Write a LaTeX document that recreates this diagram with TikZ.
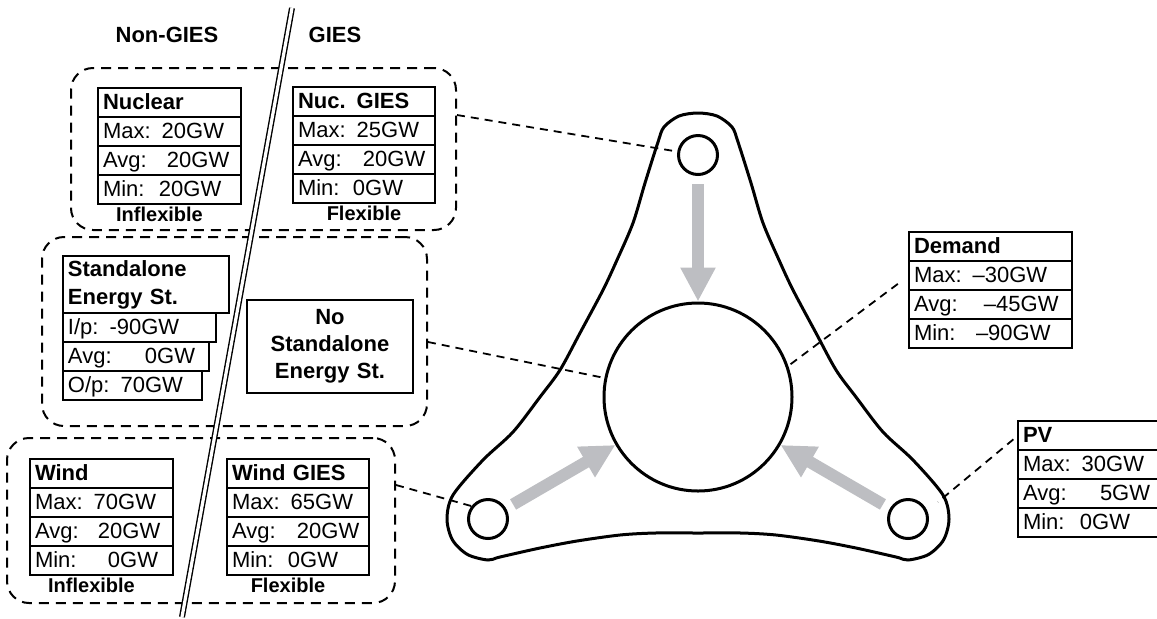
\documentclass[tikz,border=0pt]{standalone}
\usepackage{fontspec}
\setmainfont{Liberation Sans}
\usetikzlibrary{arrows.meta,positioning}

\definecolor{flowgray}{RGB}{189,190,194}

\begin{document}
\begin{tikzpicture}[x=0.5pt, y=-0.5pt,
    every node/.style={inner sep=2pt, font=\fontsize{11}{13}\selectfont},
    cell/.style={draw, line width=1pt, outer sep=0pt, anchor=north west,
        inner xsep=2.5pt, inner ysep=0pt, minimum height=14.5pt,
        text width=#1, align=left, text height=8.5pt, text depth=2pt},
    head/.style={font=\fontsize{11}{13}\selectfont\bfseries},
    side/.style={font=\fontsize{10}{12}\selectfont\bfseries, inner sep=1.5pt},
    grp/.style={draw, line width=1pt, dash pattern=on 5pt off 3.5pt,
        rounded corners=11pt, inner sep=0pt},
    link/.style={draw, line width=0.9pt, dash pattern=on 4pt off 3pt},
    hole/.style={circle, draw, line width=1.5pt, minimum size=19.5pt, inner sep=0pt},
    flow/.style={draw=flowgray, line width=6pt,
        -{Triangle[width=16.5pt, length=17pt]}, shorten <=4pt}
]
    \useasboundingbox (0,0) rectangle (1157,618);
    \clip (0,0) rectangle (1157,618);

    % dashed groups
    \node[grp, minimum width=192.5pt, minimum height=81pt] (topgrp) at (263.5,149) {};
    \node[grp, minimum width=192.5pt, minimum height=94.5pt] (midgrp) at (234.5,331.5) {};
    \node[grp, minimum width=194pt, minimum height=82.5pt] (botgrp) at (201,520.5) {};

    % Non-GIES / GIES divider
    \coordinate (cuttop) at (292,8);
    \coordinate (cutbot) at (182,617);
    \draw[double, double distance=1.6pt, line width=0.7pt] (cuttop) -- (cutbot);

    \node[head] (nongies) at (167,35) {Non-GIES};
    \node[head] (gies) at (335,35) {GIES};

    % Nuclear
    \node[cell=66.5pt] (nuc) at (98,88) {\textbf{Nuclear}};
    \node[cell=66.5pt, below=0pt of nuc] (nuc-max) {Max: 20GW};
    \node[cell=66.5pt, below=0pt of nuc-max] (nuc-avg) {\makebox[32pt][l]{Avg:}20GW};
    \node[cell=66.5pt, below=0pt of nuc-avg] (nuc-min) {\makebox[28pt][l]{Min:}20GW};
    \node[side, below=0pt of nuc-min, xshift=-5pt] (nuc-lab) {Inflexible};

    % Nuclear GIES
    \node[cell=66pt] (nucg) at (293,87) {\textbf{Nuc. GIES}};
    \node[cell=66pt, below=0pt of nucg] (nucg-max) {Max: 25GW};
    \node[cell=66pt, below=0pt of nucg-max] (nucg-avg) {\makebox[32.5pt][l]{Avg:}20GW};
    \node[cell=66pt, below=0pt of nucg-avg] (nucg-min) {\makebox[27.5pt][l]{Min:}0GW};
    \node[side, below=0pt of nucg-min] (nucg-lab) {Flexible};

    % Standalone storage
    \node[cell=78pt, text height=, text depth=, minimum height=28.5pt,
        font=\fontsize{11}{14}\selectfont\bfseries] (sta) at (63,256) {Standalone\\Energy St.};
    \node[cell=71.5pt] (sta-in) at (sta.south west) {I/p: -90GW};
    \node[cell=68pt] (sta-avg) at (sta-in.south west) {\makebox[38.5pt][l]{Avg:}0GW};
    \node[cell=64.5pt] (sta-out) at (sta-avg.south west) {O/p: 70GW};

    \node[cell=78pt, text height=, text depth=, minimum height=46.5pt, align=center,
        font=\fontsize{11}{13.5}\selectfont\bfseries] (nosta) at (247,300) {No\\Standalone\\Energy St.};

    % Wind
    \node[cell=66.5pt] (wind) at (30,459) {\textbf{Wind}};
    \node[cell=66.5pt, below=0pt of wind] (wind-max) {Max: 70GW};
    \node[cell=66.5pt, below=0pt of wind-max] (wind-avg) {\makebox[31.5pt][l]{Avg:}20GW};
    \node[cell=66.5pt, below=0pt of wind-avg] (wind-min) {\makebox[36.5pt][l]{Min:}0GW};
    \node[side, below=0pt of wind-min, xshift=-5pt] (wind-lab) {Inflexible};

    % Wind GIES
    \node[cell=66pt] (windg) at (227,459) {\textbf{Wind GIES}};
    \node[cell=66pt, below=0pt of windg] (windg-max) {Max: 65GW};
    \node[cell=66pt, below=0pt of windg-max] (windg-avg) {\makebox[32.5pt][l]{Avg:}20GW};
    \node[cell=66pt, below=0pt of windg-avg] (windg-min) {\makebox[28pt][l]{Min:}0GW};
    \node[side, below=0pt of windg-min, xshift=-5pt] (windg-lab) {Flexible};

    % Demand
    \node[cell=76.5pt] (dem) at (909,232) {\textbf{Demand}};
    \node[cell=76.5pt, below=0pt of dem] (dem-max) {Max: --30GW};
    \node[cell=76.5pt, below=0pt of dem-max] (dem-avg) {\makebox[35pt][l]{Avg:}--45GW};
    \node[cell=76.5pt, below=0pt of dem-avg] (dem-min) {\makebox[31pt][l]{Min:}--90GW};

    % PV
    \node[cell=70pt] (pv) at (1018,421) {\textbf{PV}};
    \node[cell=70pt, below=0pt of pv] (pv-max) {Max: 30GW};
    \node[cell=70pt, below=0pt of pv-max] (pv-avg) {\makebox[38.5pt][l]{Avg:}5GW};
    \node[cell=70pt, below=0pt of pv-avg] (pv-min) {\makebox[28.5pt][l]{Min:}0GW};

    % three-lobed frame
    \draw[line width=1.5pt] plot[smooth cycle, tension=0.5] coordinates {
        (658,142) (664,127) (679,116) (698,113) (717,116) (732,127) (738,142)
        (751,183) (763,223) (779,260) (793,290) (816,333) (836,370) (856,397)
        (883,432) (913,460) (943,495)
        (949,519) (943.5,540) (928.5,554.5) (908,560)
        (896,557) (856,548) (819,541) (776,535) (741,533) (698,533) (655,533)
        (620,535) (577,541) (540,548) (500,557)
        (488,560) (467.5,554.5) (452.5,540) (447,519) (453,495)
        (483,460) (513,432) (540,397) (560,370) (580,333) (603,290) (617,260)
        (633,223) (645,183)};

    \node[hole] (topcirc) at (698,155) {};
    \node[hole] (blcirc) at (488,519) {};
    \node[hole] (brcirc) at (908,519) {};
    \node[hole, minimum size=94pt] (hub) at (698,397) {};

    % flows into the hub
    \draw[flow] (topcirc) -- (hub);
    \draw[flow] (blcirc) -- (hub);
    \draw[flow] (brcirc) -- (hub);

    % dashed links
    \draw[link] ([yshift=17pt]topgrp.east) -- (topcirc);
    \draw[link] ([yshift=-5.25pt]midgrp.east) -- (hub);
    \draw[link] ([yshift=17.75pt]botgrp.east) -- (blcirc.142);
    \draw[link, shorten <=7pt] (dem-max.west) -- (hub.19);
    \coordinate (pvend) at (938,502);
    \draw[link, shorten <=3pt] (pv.west) -- (pvend);

\end{tikzpicture}
\end{document}
